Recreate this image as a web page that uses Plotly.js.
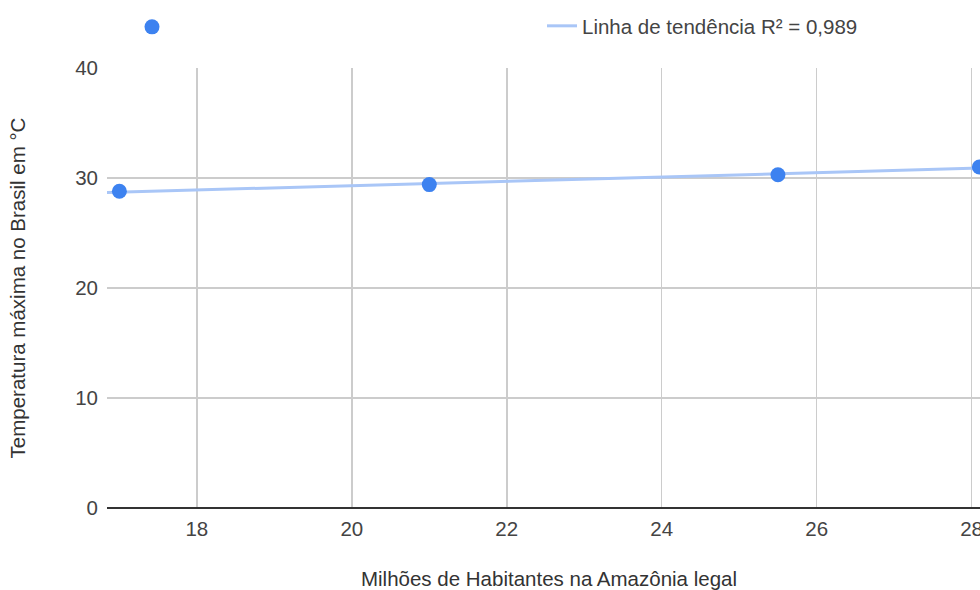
<!DOCTYPE html>
<html>
<head>
<meta charset="utf-8">
<script src="https://cdn.plot.ly/plotly-3.0.1.min.js"></script>
<style>
html,body{margin:0;padding:0;overflow:hidden;background:#fff;}
#chart{width:1010px;height:590px;}
</style>
</head>
<body>
<div id="chart"></div>
<script>
// Data
const habitantes = [17.0, 21.0, 25.5, 28.1];      // Milhões de Habitantes na Amazônia legal
const temperatura = [28.8, 29.4, 30.3, 31.0];     // Temperatura máxima no Brasil em °C
const trendLabel = 'Linha de tendência R² = 0,989';
const xTicks = [18, 20, 22, 24, 26, 28];
const yTicks = [0, 10, 20, 30, 40];

const xRange = [16.84, 28.25];
const yRange = [0, 40];

// Linear regression for the trend line
const n = habitantes.length;
const mx = habitantes.reduce((a, b) => a + b, 0) / n;
const my = temperatura.reduce((a, b) => a + b, 0) / n;
let sxy = 0, sxx = 0;
for (let i = 0; i < n; i++) {
  sxy += (habitantes[i] - mx) * (temperatura[i] - my);
  sxx += (habitantes[i] - mx) * (habitantes[i] - mx);
}
const slope = sxy / sxx;
const intercept = my - slope * mx;
const trendX = xRange.slice();
const trendY = trendX.map(x => intercept + slope * x);

const FAM = 'Arial, "Liberation Sans", sans-serif';
const font = {family: FAM, size: 20.5, color: '#444'};
const titleFont = {family: FAM, size: 20.5, color: '#333'};

const traces = [
  {
    x: trendX, y: trendY, type: 'scatter', mode: 'lines',
    name: trendLabel,
    line: {color: '#a9c6f7', width: 3},
    legend: 'legend2',
    hoverinfo: 'skip'
  },
  {
    x: habitantes, y: temperatura, type: 'scatter', mode: 'markers',
    name: ' ',
    marker: {color: '#3d82f0', size: 15},
    legend: 'legend'
  }
];

const layout = {
  width: 1010, height: 590,
  margin: {l: 107, r: 19, t: 68, b: 82},
  paper_bgcolor: '#fff', plot_bgcolor: '#fff',
  font: font,
  showlegend: true,
  legend: {
    xref: 'container', yref: 'container',
    x: 132 / 1010, y: 1 - 7 / 590, xanchor: 'left', yanchor: 'top',
    orientation: 'h', font: font, bgcolor: 'rgba(0,0,0,0)'
  },
  legend2: {
    xref: 'container', yref: 'container',
    x: 542 / 1010, y: 1 - 6 / 590, xanchor: 'left', yanchor: 'top',
    orientation: 'h', font: font, bgcolor: 'rgba(0,0,0,0)'
  },
  xaxis: {
    range: xRange,
    tickvals: xTicks,
    ticktext: xTicks.map(String),
    showgrid: true, gridcolor: '#cccccc', gridwidth: 1.5,
    zeroline: false, showline: false,
    ticks: '', ticklabelstandoff: 6,
    tickfont: font,
    title: {text: 'Milhões de Habitantes na Amazônia legal', font: titleFont, standoff: 33}
  },
  yaxis: {
    range: yRange,
    tickvals: yTicks,
    ticktext: yTicks.map(String),
    showgrid: true, gridcolor: '#cccccc', gridwidth: 1.5,
    zeroline: true, zerolinecolor: '#333333', zerolinewidth: 1.5,
    showline: false,
    ticks: '', ticklabelstandoff: 8,
    tickfont: font,
    title: {text: 'Temperatura máxima no Brasil em °C', font: titleFont, standoff: 44}
  }
};

Plotly.newPlot('chart', traces, layout, {displayModeBar: false, staticPlot: true});
</script>
</body>
</html>
